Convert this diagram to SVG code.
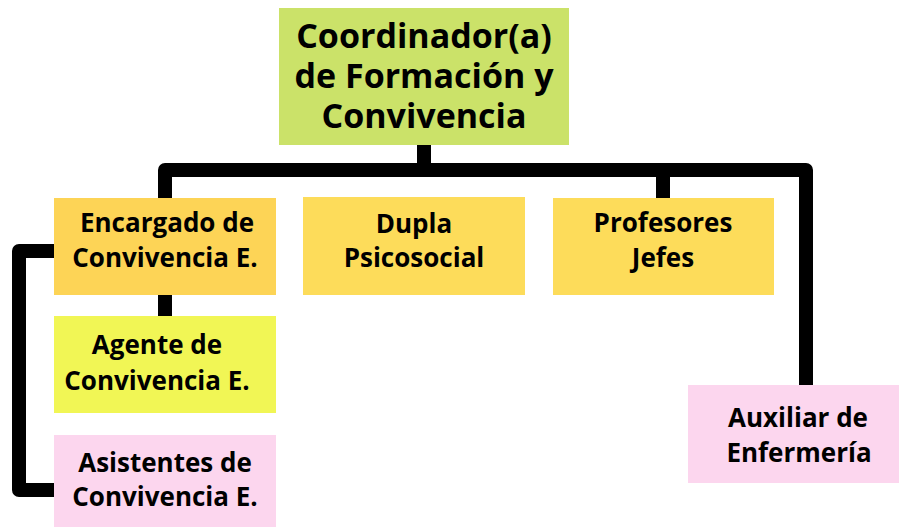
<svg xmlns="http://www.w3.org/2000/svg" width="899" height="527" viewBox="0 0 899 527">
<style>
.t{font-family:"Open Sans","Liberation Sans",sans-serif;font-weight:700;fill:#000;text-anchor:middle}
.big{font-size:34px}
.sm{font-size:26px}
.c{fill:none;stroke:#000;stroke-width:14;stroke-linejoin:round}
</style>
<rect width="899" height="527" fill="#fff"/>
<g id="connectors">
<path class="c" d="M165,198 V170 H806 V385"/>
<path class="c" d="M424,145 V170"/>
<path class="c" d="M663,170 V198"/>
<path class="c" d="M165,295 V316"/>
<path class="c" d="M54,251 H19 V490 H54"/>
</g>
<g id="coordinador">
<rect x="279" y="8" width="290" height="137" fill="#cbe269"/>
<text class="t big" x="424" y="48">Coordinador(a)</text>
<text class="t big" x="424" y="88">de Formación y</text>
<text class="t big" x="424" y="128">Convivencia</text>
</g>
<g id="encargado">
<rect x="54" y="198" width="222" height="97" fill="#fdd456"/>
<text class="t sm" x="167" y="232">Encargado de</text>
<text class="t sm" x="165" y="267">Convivencia E.</text>
</g>
<g id="dupla">
<rect x="303" y="197" width="222" height="98" fill="#fddc5a"/>
<text class="t sm" x="414" y="233">Dupla</text>
<text class="t sm" x="414" y="267">Psicosocial</text>
</g>
<g id="profesores">
<rect x="553" y="198" width="221" height="97" fill="#fddc5a"/>
<text class="t sm" x="663" y="232">Profesores</text>
<text class="t sm" x="663" y="267">Jefes</text>
</g>
<g id="agente">
<rect x="54" y="316" width="222" height="97" fill="#f1f655"/>
<text class="t sm" x="157" y="354">Agente de</text>
<text class="t sm" x="157" y="390">Convivencia E.</text>
</g>
<g id="asistentes">
<rect x="54" y="435" width="222" height="92" fill="#fcd6ee"/>
<text class="t sm" x="165" y="472">Asistentes de</text>
<text class="t sm" x="165" y="506">Convivencia E.</text>
</g>
<g id="auxiliar">
<rect x="688" y="385" width="211" height="98" fill="#fcd6ee"/>
<text class="t sm" x="798" y="427">Auxiliar de</text>
<text class="t sm" x="799" y="462">Enfermería</text>
</g>
</svg>
